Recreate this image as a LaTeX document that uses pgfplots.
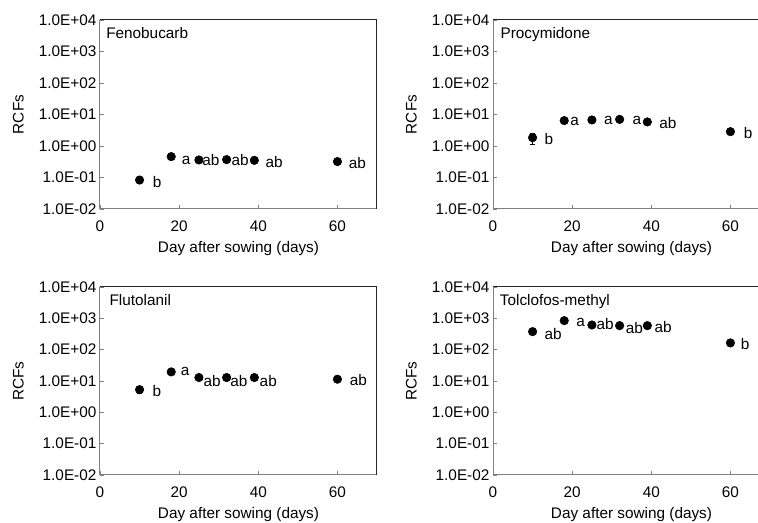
\documentclass[border=0pt]{standalone}
\usepackage{fontspec}
\setmainfont{Liberation Sans}
\usepackage{pgfplots}
\pgfplotsset{compat=1.18}
\definecolor{axgray}{RGB}{128,128,128}
\newcommand{\fsz}{\fontsize{11.5pt}{13pt}\selectfont}
\pgfplotsset{
  every axis/.append style={
    scale only axis, width=207.75pt, height=141.75pt,
    ymode=log, ymin=1e-2, ymax=1e4, xmin=0, xmax=70,
    ytick={1e-2,1e-1,1,1e1,1e2,1e3,1e4},
    yticklabels={1.0E-02,1.0E-01,1.0E+00,1.0E+01,1.0E+02,1.0E+03,1.0E+04},
    xtick={0,20,40,60}, xticklabels={0,20,40,60},
    yminorticks=false, xminorticks=false,
    tick align=inside, xtick pos=left, ytick pos=left,
    major tick length=3pt,
    tick style={axgray, line width=0.6pt},
    axis line style={draw=none},
    clip=false,
    tick label style={font=\fsz},
    xticklabel style={anchor=center, inner sep=0pt, yshift=-13.25pt},
    yticklabel style={anchor=east, inner sep=0pt, xshift=-2.5pt},
  },
}
\tikzset{lab/.style={anchor=west, inner sep=0pt, font=\fsz}}
\newcommand{\panelframe}{%
  \draw[axgray, line width=0.75pt] (rel axis cs:0,1) -- (rel axis cs:0,0) -- (rel axis cs:1,0);
  \draw[black!85, line width=0.75pt] (rel axis cs:0,1) -- (rel axis cs:1,1) -- (rel axis cs:1,0);
  \path (rel axis cs:0.5,0) ++(0pt,-29.5pt) node[anchor=center, font=\fsz]{Day after sowing (days)};
  \path (rel axis cs:0,0.5) ++(-61.3pt,0pt) node[rotate=90, anchor=center, font=\fsz]{RCFs};
}
\begin{document}
\begin{tikzpicture}
% Fenobucarb
\begin{axis}[at={(75pt,235.5pt)}, anchor=south west]
\addplot[black, only marks, mark=*, mark size=3.2pt,
    error bars/y dir=both, error bars/y explicit,
    error bars/error bar style={black, line width=0.6pt},
    error bars/error mark options={rotate=90, black, mark size=2pt, line width=0.6pt}]
  coordinates {(10,0.083) +- (0,0.005) (18,0.46) +- (0,0.03) (25,0.36) +- (0,0.02) (32,0.37) +- (0,0.02) (39,0.35) +- (0,0.02) (60,0.32) +- (0,0.02)};
\panelframe
\path (rel axis cs:0,1) ++(4.5pt,-14pt) node[anchor=base west, inner sep=0pt, font=\fsz]{Fenobucarb};
\node[lab] at (axis cs:13.3,0.074) {b};
\node[lab] at (axis cs:20.6,0.36) {a};
\node[lab] at (axis cs:25.8,0.36) {ab};
\node[lab] at (axis cs:33.2,0.36) {ab};
\node[lab] at (axis cs:41.8,0.31) {ab};
\node[lab] at (axis cs:62.8,0.28) {ab};
\end{axis}
% Procymidone
\begin{axis}[at={(369.75pt,235.5pt)}, anchor=south west]
\addplot[black, only marks, mark=*, mark size=3.2pt,
    error bars/y dir=both, error bars/y explicit,
    error bars/error bar style={black, line width=0.6pt},
    error bars/error mark options={rotate=90, black, mark size=2pt, line width=0.6pt}]
  coordinates {(10,1.84) += (0,0.7) -= (0,0.75) (18,6.4) +- (0,0.3) (25,6.7) +- (0,0.3) (32,7.0) +- (0,0.3) (39,5.8) +- (0,0.3) (60,2.85) +- (0,0.15)};
\panelframe
\path (rel axis cs:0,1) ++(5.5pt,-14pt) node[anchor=base west, inner sep=0pt, font=\fsz]{Procymidone};
\node[lab] at (axis cs:13.0,1.63) {b};
\node[lab] at (axis cs:19.5,5.9) {a};
\node[lab] at (axis cs:28.0,6.4) {a};
\node[lab] at (axis cs:35.2,6.4) {a};
\node[lab] at (axis cs:42.0,5.2) {ab};
\node[lab] at (axis cs:63.3,2.65) {b};
\end{axis}
% Flutolanil
\begin{axis}[height=141pt, at={(75pt,36pt)}, anchor=south west]
\addplot[black, only marks, mark=*, mark size=3.2pt,
    error bars/y dir=both, error bars/y explicit,
    error bars/error bar style={black, line width=0.6pt},
    error bars/error mark options={rotate=90, black, mark size=2pt, line width=0.6pt}]
  coordinates {(10,5.3) += (0,1.5) -= (0,1.3) (18,19.5) +- (0,1) (25,12.9) +- (0,0.6) (32,12.9) +- (0,0.6) (39,12.9) +- (0,0.6) (60,11.4) +- (0,0.5)};
\panelframe
\path (rel axis cs:0,1) ++(7pt,-14pt) node[anchor=base west, inner sep=0pt, font=\fsz]{Flutolanil};
\node[lab] at (axis cs:13.2,4.85) {b};
\node[lab] at (axis cs:20.4,20.5) {a};
\node[lab] at (axis cs:26.1,10.1) {ab};
\node[lab] at (axis cs:32.9,10.1) {ab};
\node[lab] at (axis cs:40.3,10.1) {ab};
\node[lab] at (axis cs:63.1,10.6) {ab};
\end{axis}
% Tolclofos-methyl
\begin{axis}[height=141pt, at={(369.75pt,36pt)}, anchor=south west]
\addplot[black, only marks, mark=*, mark size=3.2pt,
    error bars/y dir=both, error bars/y explicit,
    error bars/error bar style={black, line width=0.6pt},
    error bars/error mark options={rotate=90, black, mark size=2pt, line width=0.6pt}]
  coordinates {(10,376) +- (0,20) (18,843) +- (0,40) (25,613) +- (0,30) (32,584) +- (0,30) (39,584) +- (0,30) (60,164) +- (0,8)};
\panelframe
\path (rel axis cs:0,1) ++(5pt,-14pt) node[anchor=base west, inner sep=0pt, font=\fsz]{Tolclofos-methyl};
\node[lab] at (axis cs:13.0,325) {ab};
\node[lab] at (axis cs:21.0,764) {a};
\node[lab] at (axis cs:26.1,644) {ab};
\node[lab] at (axis cs:33.5,505) {ab};
\node[lab] at (axis cs:40.8,530) {ab};
\node[lab] at (axis cs:62.6,149) {b};
\end{axis}
\pgfresetboundingbox
\path (0,0) rectangle (568.5pt,392.25pt);
\end{tikzpicture}
\end{document}
